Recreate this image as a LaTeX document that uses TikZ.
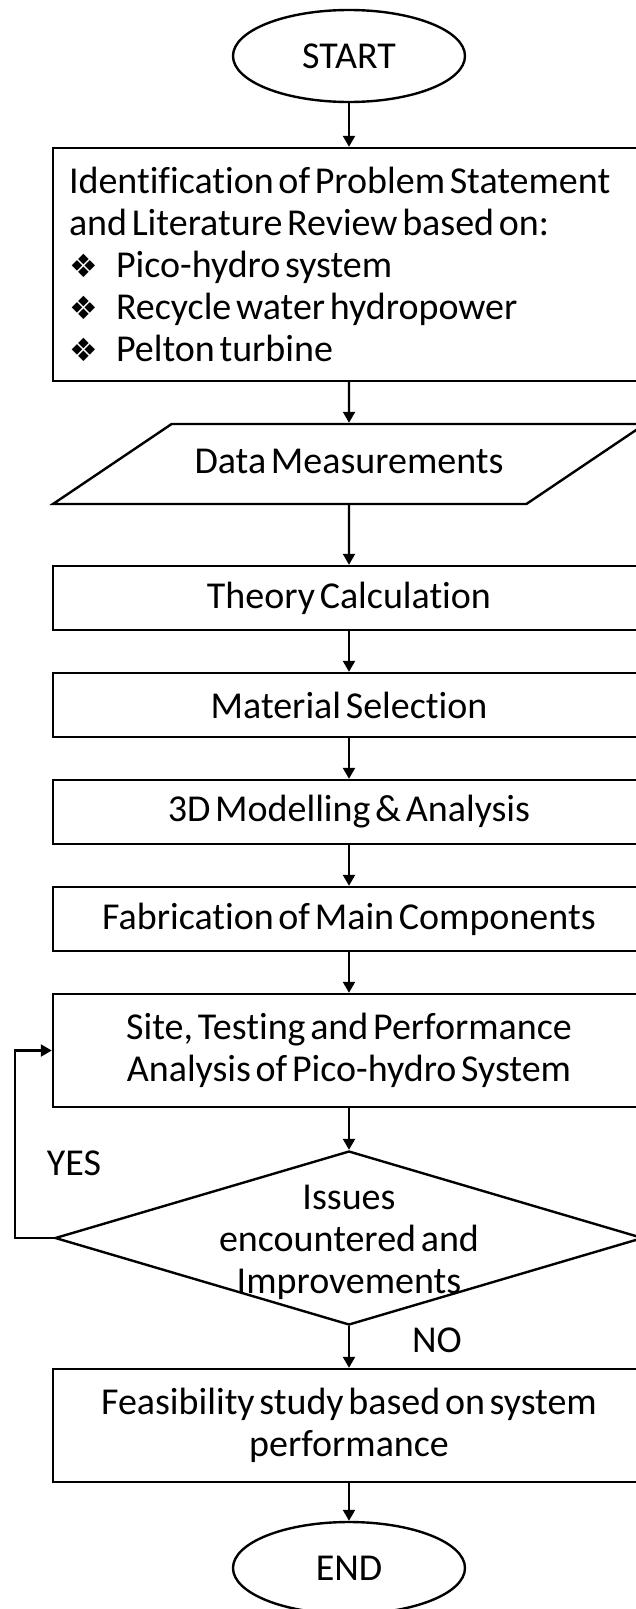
\documentclass[tikz,border=0pt]{standalone}
\usepackage{fontspec}
\setmainfont{Carlito}[WordSpace=0.55,Ligatures=NoCommon]
\newfontfamily\bulletfont{DejaVu Sans}
\usetikzlibrary{shapes.geometric,arrows.meta}

\newcommand{\bul}[1]{\makebox[47pt][l]{\bulletfont\fontsize{32}{42}\selectfont ❖}#1}

\begin{document}
\begin{tikzpicture}[x=1pt,y=-1pt,line width=2.4pt,
    every node/.style={font=\fontsize{38}{42}\selectfont},
    term/.style={draw,ellipse,minimum width=232pt,minimum height=92pt,inner sep=0pt},
    proc/.style={draw,rectangle,minimum width=592pt,inner sep=0pt,align=center},
    io/.style={draw,trapezium,trapezium left angle=34,trapezium right angle=146,
               trapezium stretches body,minimum width=592pt,text height=28pt,text depth=10pt,
               inner xsep=0pt,inner ysep=21pt},
    decide/.style={draw,diamond,minimum width=588pt,minimum height=174pt,inner sep=0pt},
    flow/.style={-{Triangle[length=11pt,width=12pt]},line width=2.2pt}]
        \useasboundingbox (0,0) rectangle (635,1609);
        \draw (349,56)     node[term] (start) {START};
        \draw (349,264.5)  node[proc,minimum height=233pt,text width=560pt,align=left] (ident)
              {\spaceskip=0.124em plus 0.02em\relax\hyphenpenalty=10000
               Identification of Problem Statement\\and Literature Review based on:\\
               \bul{Pico-hydro system}\\\bul{Recycle water hydropower}\\\bul{Pelton turbine}};
        \draw (349,464)    node[io] (data) {Data Measurements};
        \draw (349,598)    node[proc,minimum height=64pt] (theory) {Theory Calculation};
        \draw (349,705)    node[proc,minimum height=64pt] (material) {Material Selection};
        \draw (349,812)    node[proc,minimum height=64pt] (model) {3D Modelling \& Analysis};
        \draw (349,919)    node[proc,minimum height=64pt] (fab) {Fabrication of Main Components};
        \draw (349,1050.5) node[proc,minimum height=113pt] (site)
              {Site, Testing and Performance\\Analysis of Pico-hydro System};
        \draw (349,1238)   node[decide,label={[align=center,yshift=-4pt]center:Issues\\encountered and\\Improvements}] (check) {};
        \draw (349,1425.5) node[proc,minimum height=113pt] (feas)
              {Feasibility study based on system\\performance};
        \draw (349,1568)   node[term] (end) {END};
        \node (yes) at (74,1163) {YES};
        \node (no) at (437,1340) {NO};
        \draw[flow] (start) -- (ident);
        \draw[flow] (ident) -- (data);
        \draw[flow] (data) -- (theory);
        \draw[flow] (theory) -- (material);
        \draw[flow] (material) -- (model);
        \draw[flow] (model) -- (fab);
        \draw[flow] (fab) -- (site);
        \draw[flow] (site) -- (check);
        \draw[flow] (check) -- (feas);
        \draw[flow] (feas) -- (end);
        \draw[flow] (check.west) -- ++(-39,0) |- (site.west);
    \end{tikzpicture}
\end{document}
